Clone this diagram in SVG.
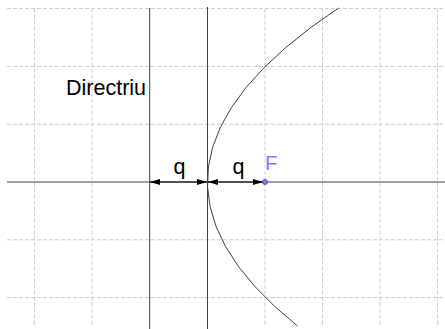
<svg xmlns="http://www.w3.org/2000/svg" width="445" height="329" viewBox="0 0 445 329">
<style>
.grid{stroke:#cccccc;stroke-width:1;stroke-dasharray:4,2;fill:none}
.ln{stroke:#404040;stroke-width:1;fill:none}
.txt{font-family:"Liberation Sans",Arial,sans-serif;fill:#000}
</style>
<defs>
<marker id="ah" viewBox="0 0 10 6" refX="10" refY="3" markerWidth="10" markerHeight="6" markerUnits="userSpaceOnUse" orient="auto-start-reverse">
<path d="M0,0 L10,3 L0,6 Z" fill="#000"/>
</marker>
</defs>
<rect width="445" height="329" fill="#fff"/>
<g id="grid">
<line class="grid" x1="7" y1="8.6" x2="445" y2="8.6"/>
<line class="grid" x1="7" y1="66.4" x2="445" y2="66.4"/>
<line class="grid" x1="7" y1="124.2" x2="445" y2="124.2"/>
<line class="grid" x1="7" y1="239.8" x2="445" y2="239.8"/>
<line class="grid" x1="7" y1="297.6" x2="445" y2="297.6"/>
<line class="grid" x1="34.4" y1="8.6" x2="34.4" y2="325"/>
<line class="grid" x1="92" y1="8.6" x2="92" y2="325"/>
<line class="grid" x1="265" y1="8.6" x2="265" y2="325"/>
<line class="grid" x1="322.5" y1="8.6" x2="322.5" y2="325"/>
<line class="grid" x1="380" y1="8.6" x2="380" y2="325"/>
<line class="grid" x1="437.6" y1="8.6" x2="437.6" y2="325"/>
</g>
<g id="axis">
<line class="ln" x1="7" y1="182" x2="445" y2="182"/>
</g>
<g id="directrix">
<line class="ln" x1="149.7" y1="8" x2="149.7" y2="329"/>
<text class="txt" x="66" y="95" font-size="21.5">Directriu</text>
</g>
<g id="vertex-line">
<line class="ln" x1="207.5" y1="7" x2="207.5" y2="329"/>
</g>
<g id="parabola">
<path class="ln" d="M338.6,8 Q98.74,167 297.5,326"/>
</g>
<g id="connectors">
<line x1="150" y1="182" x2="207" y2="182" stroke="#000" stroke-width="1" marker-start="url(#ah)" marker-end="url(#ah)"/>
<line x1="208" y1="182" x2="263" y2="182" stroke="#000" stroke-width="1" marker-start="url(#ah)" marker-end="url(#ah)"/>
</g>
<g id="labels">
<text class="txt" x="179.5" y="174" font-size="21.5" text-anchor="middle">q</text>
<text class="txt" x="238.5" y="174" font-size="21.5" text-anchor="middle">q</text>
</g>
<g id="focus">
<circle cx="265" cy="182" r="2.5" fill="#7b7bff" stroke="#4040a0" stroke-width="0.8"/>
<text x="265" y="169.5" font-size="20.5" font-family="'Liberation Sans',Arial,sans-serif" fill="#7b7bff">F</text>
</g>
</svg>
